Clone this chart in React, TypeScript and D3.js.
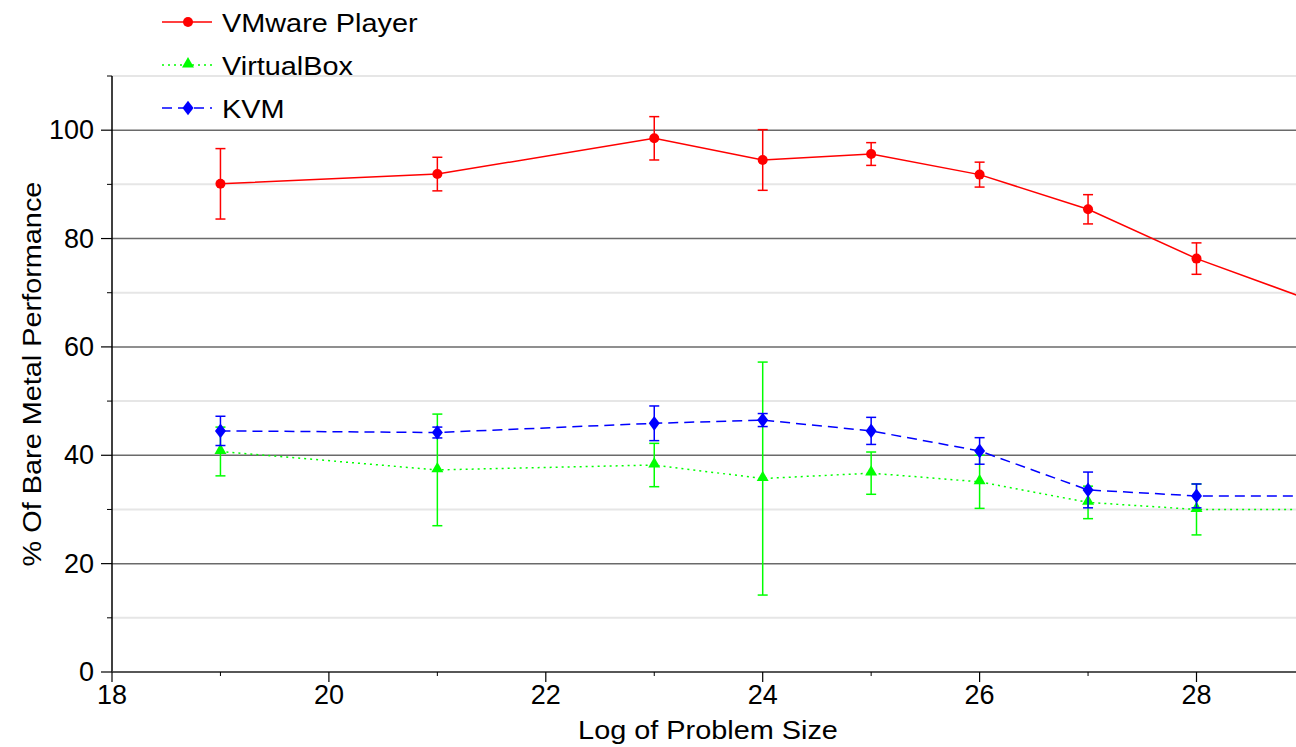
import React from 'react';
import * as d3 from 'd3';

const width = 1296,
height = 747;

const margin = {left: 112, top: 76, bottom: 672};

// log2 problem size
const sizes = [19, 21, 23, 24, 25, 26, 27, 28, 29];

const vmwareMean = [90.1, 91.9, 98.5, 94.5, 95.6, 91.8, 85.4, 76.3, 69.0];
const vmwareErr = [6.5, 3.1, 4.0, 5.6, 2.1, 2.3, 2.7, 2.9, 2.9];

const vboxMean = [40.7, 37.3, 38.2, 35.7, 36.7, 35.1, 31.3, 30.0, 30.0];
const vboxErr = [4.5, 10.3, 4.0, 21.5, 3.9, 4.9, 3.0, 4.7, 4.7];

const kvmMean = [44.5, 44.2, 45.9, 46.5, 44.5, 40.8, 33.6, 32.5, 32.5];
const kvmErr = [2.7, 1.0, 3.2, 1.2, 2.5, 2.45, 3.3, 2.2, 2.2];

const yMajor = [0, 20, 40, 60, 80, 100];
const yMinor = [10, 30, 50, 70, 90, 110];
const xMajor = [18, 20, 22, 24, 26, 28];
const xMinor = [19, 21, 23, 25, 27, 29];

const series = [
    {name: 'VMware Player', mean: vmwareMean, err: vmwareErr, color: '#ff0000', dash: null, marker: 'circle'},
    {name: 'VirtualBox', mean: vboxMean, err: vboxErr, color: '#00ff00', dash: '2,4', marker: 'triangle'},
    {name: 'KVM', mean: kvmMean, err: kvmErr, color: '#0000ff', dash: '10,6', marker: 'diamond'},
];

const x = d3.scaleLinear().domain([18, 29]).range([margin.left, margin.left + 11 * 108.45]);
const y = d3.scaleLinear().domain([0, 110]).range([margin.bottom, margin.top]);

const font = '"Liberation Sans", Arial, sans-serif';
const stretch = 1.11; // titles/legend in the original are a bit wide

function Marker({kind, cx, cy, color}) {
    if (kind === 'circle') {
        return <circle cx={cx} cy={cy} r={5} fill={color} />
    }
    const sym = kind === 'triangle' ? d3.symbolTriangle : d3.symbolDiamond;
    const size = kind === 'triangle' ? 62 : 62;
    const path = d3.symbol().type(sym).size(size)();
    const dy = kind === 'triangle' ? -1 : 0;
    const sx = kind === 'diamond' ? 1.3 : 1;
    return <path d={path} transform={'translate(' + cx + ',' + (cy + dy) + ') scale(' + sx + ',1)'} fill={color} />
}

export default function App() {
    const line = d3.line().x(d => x(d[0])).y(d => y(d[1]));

    return (
        <svg width={width} height={height} style={{position: 'absolute', left: 0, top: 0, background: '#fff'}}
            fontFamily={font}>
            {/* minor grid */}
            {yMinor.map(v => (
                <line key={'mn' + v} x1={margin.left} x2={width} y1={y(v)} y2={y(v)} stroke="#e6e6e6" strokeWidth={2} />
            ))}
            {yMajor.map(v => (
                <line key={'mj' + v} x1={margin.left} x2={width} y1={y(v)} y2={y(v)} stroke="#6a6a6a" strokeWidth={1.5} />
            ))}

            {/* y axis */}
            <line x1={margin.left} x2={margin.left} y1={margin.top} y2={margin.bottom} stroke="#000" strokeWidth={1.5} />
            {yMajor.map(v => (
                <g key={'yt' + v}>
                    <line x1={margin.left - 11} x2={margin.left} y1={y(v)} y2={y(v)} stroke="#000" strokeWidth={1.2} />
                    <text x={margin.left - 18} y={y(v) + 9} textAnchor="end" fontSize={27}>{v}</text>
                </g>
            ))}
            {yMinor.map(v => (
                <line key={'ym' + v} x1={margin.left - 5} x2={margin.left} y1={y(v)} y2={y(v)} stroke="#000" strokeWidth={1} />
            ))}

            {/* x axis */}
            <line x1={margin.left} x2={width} y1={margin.bottom} y2={margin.bottom} stroke="#444" strokeWidth={1.5} />
            {xMajor.map(v => (
                <g key={'xt' + v}>
                    <line x1={x(v)} x2={x(v)} y1={margin.bottom} y2={margin.bottom + 10} stroke="#000" strokeWidth={1.2} />
                    <text x={x(v)} y={margin.bottom + 32} textAnchor="middle" fontSize={27}>{v}</text>
                </g>
            ))}
            {xMinor.map(v => (
                <line key={'xm' + v} x1={x(v)} x2={x(v)} y1={margin.bottom} y2={margin.bottom + 4} stroke="#000" strokeWidth={1} />
            ))}

            <text transform={'translate(708,739) scale(' + stretch + ',1)'} textAnchor="middle" fontSize={26}>Log of Problem Size</text>
            <text transform={'translate(41,374) rotate(-90) scale(' + stretch + ',1)'} textAnchor="middle" fontSize={26}>% Of Bare Metal Performance</text>

            {/* data */}
            {series.map(s => {
                const pts = sizes.map((sz, i) => [sz, s.mean[i]]);
                return (
                    <g key={s.name}>
                        <path d={line(pts)} fill="none" stroke={s.color} strokeWidth={1.5}
                            strokeDasharray={s.dash || undefined} />
                        {sizes.map((sz, i) => {
                            const cx = x(sz);
                            const top = y(s.mean[i] + s.err[i]);
                            const bot = y(s.mean[i] - s.err[i]);
                            return (
                                <g key={sz} stroke={s.color} strokeWidth={1.5}>
                                    <line x1={cx} x2={cx} y1={top} y2={bot} />
                                    <line x1={cx - 5} x2={cx + 5} y1={top} y2={top} />
                                    <line x1={cx - 5} x2={cx + 5} y1={bot} y2={bot} />
                                </g>
                            )
                        })}
                        {sizes.map((sz, i) => (
                            <Marker key={'m' + sz} kind={s.marker} cx={x(sz)} cy={y(s.mean[i])} color={s.color} />
                        ))}
                    </g>
                )
            })}

            {/* legend */}
            {series.map((s, i) => {
                const ly = 22 + i * 43;
                return (
                    <g key={'lg' + s.name}>
                        <line x1={162} x2={212} y1={ly} y2={ly} stroke={s.color} strokeWidth={1.5}
                            strokeDasharray={s.dash || undefined} />
                        <Marker kind={s.marker} cx={188} cy={ly} color={s.color} />
                        <text transform={'translate(222,' + (ly + 10) + ') scale(' + stretch + ',1)'} fontSize={26}>{s.name}</text>
                    </g>
                )
            })}
        </svg>
    )
}
